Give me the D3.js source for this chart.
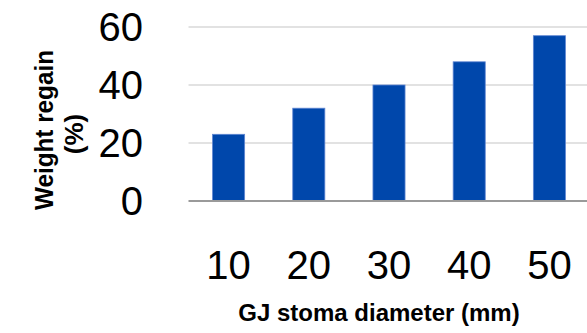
<!DOCTYPE html>
<html>
<head>
<meta charset="utf-8">
<script src="https://cdn.jsdelivr.net/npm/d3@7"></script>
<style>
  body { margin: 0; background: #fff; }
  svg { display: block; font-family: "Liberation Sans", Arial, sans-serif; }
</style>
</head>
<body>
<svg id="chart" width="587" height="333"></svg>
<script>
// chart data
const diameters = ["10", "20", "30", "40", "50"];
const regain = [23, 32, 40, 48, 57];
const yTicks = [0, 20, 40, 60];
const yTitleLines = ["Weight regain", "(%)"];

const svg = d3.select("#chart");

// plot area
const plot = {left: 188.5, right: 589.5, top: 27, bottom: 201};

const x = d3.scaleBand()
    .domain(diameters)
    .range([plot.left, plot.right])
    .paddingInner(0.6)
    .paddingOuter(0.3);

const y = d3.scaleLinear()
    .domain([0, 60])
    .range([plot.bottom, plot.top]);

// gridlines
svg.append("g")
    .selectAll("line")
    .data(yTicks.filter(d => d > 0))
    .enter()
    .append("line")
    .attr("x1", plot.left)
    .attr("x2", 587)
    .attr("y1", d => y(d))
    .attr("y2", d => y(d))
    .attr("stroke", "#d9d9d9")
    .attr("stroke-width", 1.5);

// bars
svg.append("g")
    .selectAll("rect")
    .data(regain)
    .enter()
    .append("rect")
    .attr("x", (d, i) => x(diameters[i]))
    .attr("y", d => y(d))
    .attr("width", x.bandwidth())
    .attr("height", d => y(0) - y(d))
    .attr("fill", "#0047ab")
    .attr("stroke", "#5f86d2")
    .attr("stroke-width", 0.8);

// baseline
svg.append("line")
    .attr("x1", plot.left)
    .attr("x2", 587)
    .attr("y1", y(0))
    .attr("y2", y(0))
    .attr("stroke", "#9a9a9a")
    .attr("stroke-width", 2);

// y tick labels
svg.append("g")
    .selectAll("text")
    .data(yTicks)
    .enter()
    .append("text")
    .attr("x", 143)
    .attr("y", d => y(d))
    .attr("dy", "0.36em")
    .attr("text-anchor", "end")
    .attr("font-size", "40px")
    .attr("fill", "#000")
    .text(d => d);

// x tick labels
svg.append("g")
    .selectAll("text")
    .data(diameters)
    .enter()
    .append("text")
    .attr("x", d => x(d) + x.bandwidth() / 2)
    .attr("y", 279)
    .attr("text-anchor", "middle")
    .attr("font-size", "40px")
    .attr("fill", "#000")
    .text(d => d);

// axis titles
svg.append("text")
    .attr("x", 379)
    .attr("y", 321)
    .attr("text-anchor", "middle")
    .attr("font-size", "24px")
    .attr("font-weight", "bold")
    .text("GJ stoma diameter (mm)");

// y title, one text element per line
svg.append("g")
    .selectAll("text")
    .data(yTitleLines)
    .enter()
    .append("text")
    .attr("transform", (d, i) => `translate(${53 + i * 30},${i === 0 ? 130 : 134}) rotate(-90)`)
    .attr("text-anchor", "middle")
    .attr("font-size", "26px")
    .attr("font-weight", "bold")
    .attr("textLength", (d, i) => i === 0 ? 160 : null)
    .attr("lengthAdjust", "spacingAndGlyphs")
    .text(d => d);
</script>
</body>
</html>
